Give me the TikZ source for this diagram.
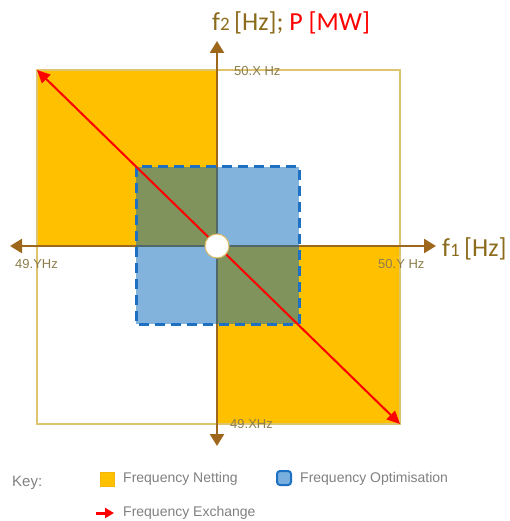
\documentclass[tikz,border=0pt]{standalone}
\usepackage{fontspec}
\setmainfont{Liberation Sans}
\newfontfamily\calibri{Carlito}
\usetikzlibrary{arrows.meta}
\definecolor{netting}{RGB}{255,192,0}
\definecolor{optim}{RGB}{5,104,186}
\definecolor{optimedge}{RGB}{30,112,195}
\definecolor{optimkey}{RGB}{120,175,222}
\definecolor{axisbrown}{RGB}{158,104,28}
\definecolor{framegold}{RGB}{222,196,110}
\definecolor{ticktext}{RGB}{140,125,75}
\definecolor{keytext}{RGB}{128,128,128}
\definecolor{axistext}{RGB}{140,108,28}
\tikzset{
  axis/.style={axisbrown, line width=2.5pt,
    {Triangle[width=14pt,length=12pt]}-{Triangle[width=14pt,length=12pt]}},
  exchange/.style={red, line width=2pt,
    {Triangle[width=12pt,length=13pt]}-{Triangle[width=12pt,length=13pt]}},
  ticklabel/.style={font=\fontsize{13}{13}\selectfont, text=ticktext, inner sep=0pt, anchor=west},
  keylabel/.style={font=\fontsize{14}{14}\selectfont, text=keytext, inner sep=0pt, anchor=west},
  axislabel/.style={font=\calibri\fontsize{26}{26}\selectfont, text=axistext, inner sep=0pt, anchor=base west},
}
\newcommand{\smalldigit}[1]{{\fontsize{19}{19}\selectfont #1}}
\begin{document}
\begin{tikzpicture}[x=1pt,y=-1pt]
\useasboundingbox (0,0) rectangle (509,521);
% corners and axis ends
\coordinate (nw) at (37,70);
\coordinate (se) at (400,424);
\coordinate (o) at (217,246);
\coordinate (xleft) at (10,246);
\coordinate (xright) at (436,246);
\coordinate (ytop) at (217,41);
\coordinate (ybottom) at (217,446);
% frequency netting quadrants
\fill[netting] (nw) rectangle (o);
\fill[netting] (o) rectangle (se);
\draw[framegold, line width=1.2pt] (nw) rectangle (se);
% axes
\draw[axis] (xleft) -- (xright);
\draw[axis] (ybottom) -- (ytop);
% frequency optimisation square
\draw[optimedge, line width=3pt, dash pattern=on 10pt off 6pt,
  fill=optim, fill opacity=0.5] (136,167) rectangle (299,324);
% frequency exchange
\draw[exchange] (nw) -- (se);
\node[circle, draw=framegold!85!brown, fill=white, line width=1pt,
  minimum size=24pt, inner sep=0pt] (origin) at (o) {};
% axis labels
\node[axislabel] (f2label) at (212,31)
  {f\smalldigit{2}\,[Hz]; \textcolor{red}{P [MW]}};
\node[axislabel] (f1label) at (442,256) {f\smalldigit{1}\,[Hz]};
\node[ticklabel] (topfreq) at (234,71) {50.X Hz};
\node[ticklabel] (leftfreq) at (15,264) {49.YHz};
\node[ticklabel] (rightfreq) at (378,264) {50.Y Hz};
\node[ticklabel] (bottomfreq) at (230,424) {49.XHz};
% key
\node[keylabel, font=\fontsize{15}{15}\selectfont] (key) at (12,483) {Key:};
\node[fill=netting, draw=netting!85!brown, line width=0.5pt, minimum size=14pt,
  inner sep=0pt] (netbox) at (107,479) {};
\node[keylabel] (netlabel) at (123,479) {Frequency Netting};
\node[fill=optimkey, draw=optimedge, line width=2pt, rounded corners=3pt,
  minimum size=14pt, inner sep=0pt] (optbox) at (284,478) {};
\node[keylabel] (optlabel) at (300,479) {Frequency Optimisation};
\coordinate (exstart) at (96,513);
\coordinate (exend) at (114,513);
\draw[red, line width=3pt, -{Triangle[width=10pt,length=9pt]}] (exstart) -- (exend);
\node[keylabel] (exlabel) at (123,513) {Frequency Exchange};
\end{tikzpicture}
\end{document}
